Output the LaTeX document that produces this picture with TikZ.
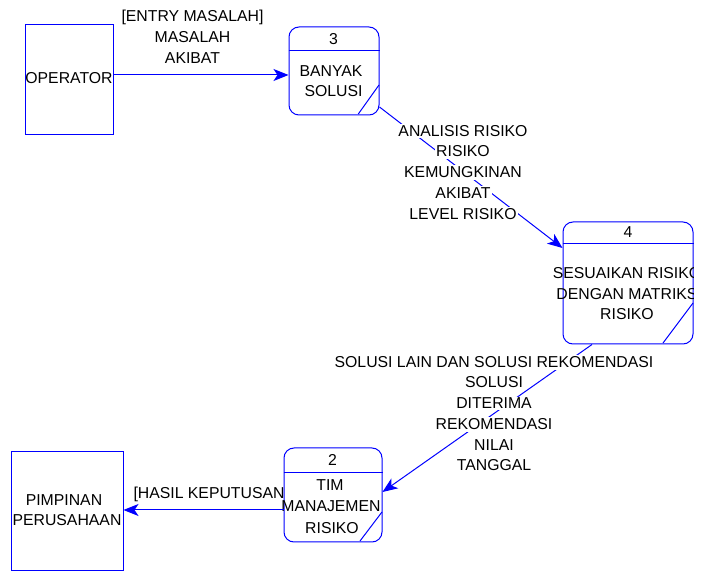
\documentclass[tikz,border=0pt]{standalone}
\usepackage{fontspec}
\setmainfont{Liberation Sans}
\usetikzlibrary{arrows.meta}
\definecolor{dfd}{RGB}{0,0,255}
\begin{document}
\begin{tikzpicture}[x=1pt,y=1pt,
  txt/.style={font=\fontsize{15.8}{19}\selectfont, inner sep=0pt, anchor=base},
  wtxt/.style={txt, fill=white, inner xsep=1pt, inner ysep=1.5pt},
  extbox/.style={draw=dfd, line width=1pt, fill=white, inner sep=0pt},
  procbox/.style={draw=dfd, line width=1pt, fill=white, rounded corners=10pt, inner sep=0pt},
  procline/.style={draw=dfd, line width=1pt},
  flow/.style={draw=dfd, line width=1pt, -{Stealth[length=15pt,width=12pt,inset=4pt]}}]
\useasboundingbox (0,0) rectangle (705,571);

% label hidden partly behind process 2
\node[txt, anchor=base west] (hasil) at (133.3,72.8) {[HASIL KEPUTUSAN]};

% external entities
\node[extbox, minimum width=88pt, minimum height=110pt] (op) at (69,491) {};
\node[txt] (opt) at (69,487.8) {OPERATOR};
\node[extbox, minimum width=112pt, minimum height=118pt] (pim) at (67,60) {};
\node[txt] (pim1) at (64,65.8) {PIMPINAN};
\node[txt] (pim2) at (67,45.3) {PERUSAHAAN};

% process 3
\node[procbox, minimum width=90pt, minimum height=88pt] (p3) at (334,500) {};
\draw[procline] (p3.west |- 0,520) coordinate (p3l) -- (p3.east |- p3l);
\draw[procline] (358.3,457) -- (379,486);
\node[txt] (p3n) at (333.5,526.5) {3};
\node[txt] (p3a) at (331,494.5) {BANYAK};
\node[txt] (p3b) at (333.5,474) {SOLUSI};

% process 4
\node[procbox, minimum width=130pt, minimum height=122pt] (p4) at (628,288) {};
\draw[procline] (p4.west |- 0,327) coordinate (p4l) -- (p4.east |- p4l);
\draw[procline] (663,228) -- (693,268);
\node[txt] (p4n) at (628,333.3) {4};
\begin{scope}
\clip (0,0) rectangle (693,571);
\node[txt] (p4a) at (627,292.8) {SESUAIKAN RISIKO};
\node[txt] (p4b) at (627,271.8) {DENGAN MATRIKS};
\node[txt] (p4c) at (627,251.3) {RISIKO};
\end{scope}

% process 2
\node[procbox, minimum width=98pt, minimum height=94pt] (p2) at (333,76) {};
\draw[procline] (p2.west |- 0,98) coordinate (p2l) -- (p2.east |- p2l);
\draw[procline] (360,30) -- (382,59);
\node[txt] (p2n) at (332.5,105) {2};
\node[txt] (p2a) at (330,80.3) {TIM};
\node[txt] (p2b) at (331,59.5) {MANAJEMEN};
\node[txt] (p2c) at (332,37.8) {RISIKO};

% flows
\draw[flow] ([yshift=5pt]op.east) -- ([yshift=-4pt]p3.west);
\draw[flow] ([yshift=-36pt]p3.east) -- ([yshift=35pt]p4.west);
\draw[flow] ([xshift=-36pt]p4.south) -- ([yshift=3pt]p2.east);
\draw[flow] ([yshift=-15pt]p2.west) -- ([yshift=1pt]pim.east);

% flow labels
\node[txt] (l1a) at (192.5,549.4) {[ENTRY MASALAH]};
\node[txt] (l1b) at (192.5,528.3) {MASALAH};
\node[txt] (l1c) at (192.5,507.8) {AKIBAT};

\node[wtxt] (l2a) at (463,434.8) {ANALISIS RISIKO};
\node[wtxt] (l2b) at (463,414.1) {RISIKO};
\node[wtxt] (l2c) at (463,393.1) {KEMUNGKINAN};
\node[wtxt] (l2d) at (463,372.8) {AKIBAT};
\node[wtxt] (l2e) at (463,351.8) {LEVEL RISIKO};

\node[wtxt] (l3a) at (494,203.1) {SOLUSI LAIN DAN SOLUSI REKOMENDASI};
\node[wtxt] (l3b) at (494,183.1) {SOLUSI};
\node[wtxt] (l3c) at (494,162) {DITERIMA};
\node[wtxt] (l3d) at (494,141.1) {REKOMENDASI};
\node[wtxt] (l3e) at (494,120.5) {NILAI};
\node[wtxt] (l3f) at (494,100.1) {TANGGAL};
\end{tikzpicture}
\end{document}
